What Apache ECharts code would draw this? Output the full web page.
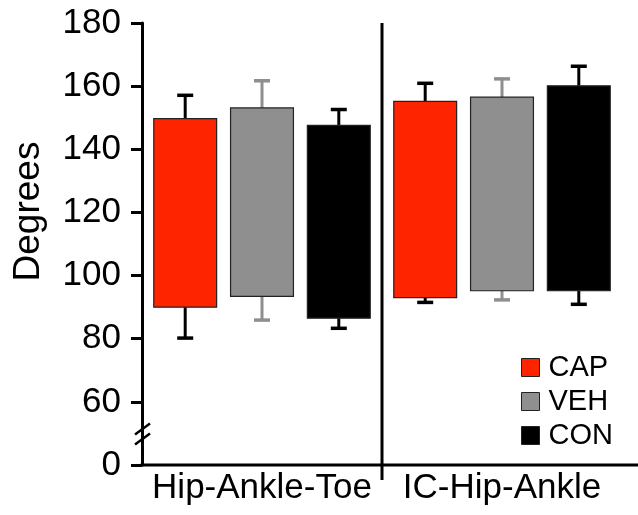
<!DOCTYPE html>
<html>
<head>
<meta charset="utf-8">
<script src="https://cdn.jsdelivr.net/npm/echarts@6/dist/echarts.min.js"></script>
<style>
  html, body { margin: 0; padding: 0; background: #fff; }
  #chart { width: 638px; height: 515px; }
</style>
</head>
<body>
<div id="chart"></div>
<script>
// categories and groups
const categories = ['Hip-Ankle-Toe', 'IC-Hip-Ankle'];
const groupNames = ['CAP', 'VEH', 'CON'];

// box range [low, high] per category
const capRange = [[90.0, 149.7], [93.0, 155.2]];
const vehRange = [[93.4, 153.1], [95.2, 156.5]];
const conRange = [[86.5, 147.6], [95.2, 160.1]];

// error bar ends [low, high] per category
const capError = [[80.2, 157.1], [91.5, 160.9]];
const vehError = [[85.9, 161.7], [92.3, 162.3]];
const conError = [[83.3, 152.6], [90.9, 166.3]];

// y axis: the bottom tick (40 on the scale) is shown as 0 after the break
const yTickValues = [40, 60, 80, 100, 120, 140, 160, 180];
const yTickLabels = ['0', '60', '80', '100', '120', '140', '160', '180'];

const FONT = "'Liberation Sans', Arial, sans-serif";
const fills = ['#ff2400', '#8f8f8f', '#000000'];
const whiskers = ['#000000', '#8f8f8f', '#000000'];

function buildData(range, error) {
  return range.map((r, i) => [i, r[0], r[1], error[i][0], error[i][1]]);
}

function makeSeries(name, idx, range, error) {
  return {
    name: name,
    type: 'custom',
    itemStyle: { color: fills[idx], borderColor: '#222', borderWidth: 1 },
    encode: { x: 0, y: [1, 2, 3, 4] },
    data: buildData(range, error),
    renderItem: function (params, api) {
      const band = api.size([1, 0])[0];
      const off = (idx - 1) * band * 0.32;
      const w = band * 0.262;
      const low = api.coord([api.value(0), api.value(1)]);
      const high = api.coord([api.value(0), api.value(2)]);
      const eLow = api.coord([api.value(0), api.value(3)]);
      const eHigh = api.coord([api.value(0), api.value(4)]);
      const cx = low[0] + off;
      const capW = 16;
      const wc = whiskers[idx];
      return {
        type: 'group',
        children: [
          { type: 'line', shape: { x1: cx, y1: high[1], x2: cx, y2: eHigh[1] }, style: { stroke: wc, lineWidth: 3 } },
          { type: 'line', shape: { x1: cx - capW / 2, y1: eHigh[1], x2: cx + capW / 2, y2: eHigh[1] }, style: { stroke: wc, lineWidth: 3.5 } },
          { type: 'line', shape: { x1: cx, y1: low[1], x2: cx, y2: eLow[1] }, style: { stroke: wc, lineWidth: 3 } },
          { type: 'line', shape: { x1: cx - capW / 2, y1: eLow[1], x2: cx + capW / 2, y2: eLow[1] }, style: { stroke: wc, lineWidth: 3.5 } },
          {
            type: 'rect',
            shape: { x: cx - w / 2, y: high[1], width: w, height: low[1] - high[1] },
            style: { fill: fills[idx], stroke: '#222', lineWidth: 1.2 }
          }
        ]
      };
    }
  };
}

const chart = echarts.init(document.getElementById('chart'));

const option = {
  animation: false,
  grid: { left: 142, right: 16, top: 23, bottom: 50, outerBoundsMode: 'none', containLabel: false },
  legend: {
    orient: 'vertical',
    left: 516,
    top: 348,
    icon: 'rect',
    itemWidth: 18,
    itemHeight: 18,
    itemGap: 5,
    itemStyle: { borderColor: '#222', borderWidth: 1 },
    textStyle: { fontFamily: FONT, fontSize: 29, color: '#000', padding: [0, 0, 0, 4] },
    data: groupNames
  },
  xAxis: {
    type: 'category',
    data: categories,
    axisLine: { show: false },
    axisTick: { show: false },
    axisLabel: { interval: 0, fontFamily: FONT, fontSize: 35, color: '#000', margin: 6 },
    splitLine: { show: false }
  },
  yAxis: {
    type: 'value',
    min: 40,
    max: 180,
    interval: 20,
    name: 'Degrees',
    nameLocation: 'middle',
    nameGap: 95,
    nameTextStyle: { fontFamily: FONT, fontSize: 37, color: '#000', padding: [0, 0, 0, 65] },
    axisLine: { show: true, lineStyle: { color: '#000', width: 3 } },
    axisTick: { show: true, length: 11, lineStyle: { color: '#000', width: 3 } },
    axisLabel: {
      fontFamily: FONT, fontSize: 35, color: '#000', margin: 21,
      formatter: function (v) {
        const i = yTickValues.indexOf(v);
        return i >= 0 ? yTickLabels[i] : '';
      }
    },
    splitLine: { show: false }
  },
  series: [
    makeSeries('CAP', 0, capRange, capError),
    makeSeries('VEH', 1, vehRange, vehError),
    makeSeries('CON', 2, conRange, conError)
  ]
};

chart.setOption(option);

// x axis line, divider between groups and axis break marks
const c0 = chart.convertToPixel({ xAxisIndex: 0 }, 0);
const c1 = chart.convertToPixel({ xAxisIndex: 0 }, 1);
const divX = (c0 + c1) / 2;
const axisX = c0 - (c1 - c0) / 2;
const yTop = chart.convertToPixel({ yAxisIndex: 0 }, 180);
const yBase = chart.convertToPixel({ yAxisIndex: 0 }, 40);
const yBreak = chart.convertToPixel({ yAxisIndex: 0 }, 50);

chart.setOption({
  graphic: [
    { type: 'line', shape: { x1: axisX - 1.5, y1: yBase, x2: 638, y2: yBase }, style: { stroke: '#000', lineWidth: 3 } },
    { type: 'line', shape: { x1: divX, y1: yTop, x2: divX, y2: yBase + 15 }, style: { stroke: '#000', lineWidth: 3 } },
    { type: 'rect', shape: { x: axisX - 3, y: yBreak - 5, width: 6, height: 10 }, style: { fill: '#fff' } },
    { type: 'line', shape: { x1: axisX - 7, y1: yBreak + 1, x2: axisX + 8, y2: yBreak - 10 }, style: { stroke: '#000', lineWidth: 2.5 } },
    { type: 'line', shape: { x1: axisX - 7, y1: yBreak + 11, x2: axisX + 8, y2: yBreak }, style: { stroke: '#000', lineWidth: 2.5 } }
  ]
});
</script>
</body>
</html>
